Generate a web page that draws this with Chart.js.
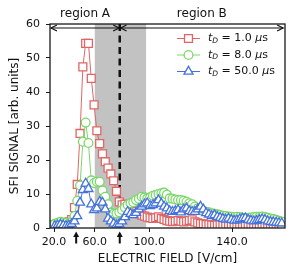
<!DOCTYPE html>
<html><head><meta charset="utf-8">
<script src="https://cdn.jsdelivr.net/npm/chart.js@4.4.0/dist/chart.umd.min.js"></script>
<style>html,body{margin:0;padding:0;background:#fff;}canvas{display:block}</style>
</head><body>
<canvas id="c" width="301" height="275"></canvas>
<script>
// Field ramp: F(t) = FIELD_MAX * (1 - exp(-t)); the detector samples are uniform in ramp time t.
const FIELD_MAX = 200; // V/cm
const fieldAt = t => FIELD_MAX * (1 - Math.exp(-t));
const timeAt = F => -Math.log(1 - F / FIELD_MAX);
const sampleStart = 0.1105;   // ramp time of the first sample
const sampleStep = 0.01728;   // ramp time between samples

// SFI signal [arb. units] for each delay time
const signal_1us = [1.0,1.3,1.4,1.2,1.5,1.8,2.5,6,12.8,27.8,
  47.4,54.3,54.3,44,36.2,28.6,24.8,21.8,19.5,17.6,
  15.9,13.9,10.8,7.7,6.8,7.0,6.3,5.5,4.8,4.8,
  4.2,3.8,3.5,3.2,3.0,2.8,3.0,3.3,2.8,2.5,
  2.2,2.0,1.9,2.0,2.2,2.0,1.8,2.0,2.2,2.4,
  1.8,1.5,1.3,1.2,1.0,1.0,0.9,0.8,0.9,1.0,
  0.8,0.7,0.8,0.9,0.8,0.7,0.6,0.7,0.8,0.7,
  0.6,0.6,0.7,0.6,0.5,0.6,0.5,0.5,0.6,0.5,0.5,0.4];
const signal_8us = [1.2,1.5,1.8,1.6,1.5,1.3,1.8,3.5,8,12.5,
  25.4,31,25,14,13.2,13.6,13.6,11,9.2,7,
  4.5,4.2,4.3,4.6,5.3,6.0,6.8,7.3,7.6,8.2,
  8.6,9.2,9.0,8.7,9.0,9.5,9.7,10.0,10.2,10.4,
  9.8,8.7,8.6,8.4,8.2,8.2,8.0,7.7,7.3,7.0,
  6.3,5.8,5.4,5.0,4.8,4.6,4.3,4.2,4.0,3.8,
  3.6,3.5,3.4,3.3,3.2,3.3,3.2,3.0,2.9,3.0,
  3.1,3.2,3.3,3.3,3.4,3.2,3.0,2.8,2.6,2.4,2.1,1.9];
const signal_50us = [0.6,0.8,1.0,0.8,0.6,0.8,1.2,2.0,3.5,7.5,
  11.2,13.1,11.5,7.0,5.3,5.8,7.7,7.5,5.5,2.8,
  2.0,1.3,0.8,1.2,2.0,3.2,4.8,4.2,3.8,4.5,
  5.5,6.3,7.0,7.3,6.5,6.8,7.3,8.2,7.2,6.3,
  5.8,5.0,4.8,5.0,5.3,4.6,5.5,5.8,5.0,4.8,
  4.8,5.5,6.3,5.5,4.4,4.0,3.5,3.8,3.3,3.0,
  2.7,2.5,2.8,2.4,2.2,2.3,2.6,2.8,2.9,2.4,
  2.2,2.0,2.1,2.4,2.6,2.4,2.0,1.8,1.7,1.6,1.5,1.4];

const seriesDelays = ['1.0', '8.0', '50.0'];          // t_D in µs
const fieldTicks = [20, 60, 100, 140];                // V/cm
const signalTicks = [0, 10, 20, 30, 40, 50, 60];
const fieldRange = [15.5, 156.7];                     // V/cm
const regionA = [16.6, 79.6];
const regionB = [80.6, 156.2];
const shadedField = [60, 98];
const boundaryField = 80;
const arrowFields = [43, 80];

const colors = ['#e06666', '#7bd86b', '#4472dc'];
const styles = ['rect', 'circle', 'triangle'];
const radii = [5.6, 4.4, 5.2];

const toPoints = arr => arr.map((v, i) => ({x: sampleStart + i * sampleStep, y: v}));
const series = [signal_1us, signal_8us, signal_50us];

Chart.defaults.font.family = 'DejaVu Sans';
Chart.defaults.color = '#111';

const datasets = series.map((s, i) => ({
  label: 't_D = ' + seriesDelays[i] + ' µs',
  data: toPoints(s),
  borderColor: colors[i],
  borderWidth: 1,
  pointStyle: styles[i],
  pointRadius: radii[i],
  pointBorderWidth: 1.3,
  pointBorderColor: colors[i],
  pointBackgroundColor: '#fff',
  tension: 0,
  order: 3 - i
}));

function dblArrow(ctx, xa, xb, y) {
  ctx.beginPath(); ctx.moveTo(xa, y); ctx.lineTo(xb, y); ctx.stroke();
  ctx.beginPath();
  ctx.moveTo(xa + 6, y - 3); ctx.lineTo(xa, y); ctx.lineTo(xa + 6, y + 3);
  ctx.moveTo(xb - 6, y - 3); ctx.lineTo(xb, y); ctx.lineTo(xb - 6, y + 3);
  ctx.stroke();
}

const overlay = {
  id: 'overlay',
  beforeDatasetsDraw(chart) {
    const {ctx, chartArea: a, scales: {x}} = chart;
    const px = F => x.getPixelForValue(timeAt(F));
    ctx.save();
    ctx.fillStyle = '#c2c2c2';
    const x0 = px(shadedField[0]), x1 = px(shadedField[1]);
    ctx.fillRect(x0, a.top, x1 - x0, a.bottom - a.top);
    ctx.strokeStyle = '#111'; ctx.lineWidth = 2.5; ctx.setLineDash([7, 4.5]);
    const xb = px(boundaryField);
    ctx.beginPath(); ctx.moveTo(xb, a.top); ctx.lineTo(xb, a.bottom); ctx.stroke();
    ctx.restore();
  },
  afterDraw(chart) {
    const {ctx, chartArea: a, scales: {x}} = chart;
    const px = F => x.getPixelForValue(timeAt(F));
    ctx.save();
    // frame
    ctx.strokeStyle = '#1a1a1a'; ctx.lineWidth = 1.3;
    ctx.strokeRect(a.left, a.top, a.right - a.left, a.bottom - a.top);
    // region arrows
    ctx.lineWidth = 1.2; ctx.strokeStyle = '#111';
    const yA = a.top + 4;
    dblArrow(ctx, px(regionA[0]), px(regionA[1]), yA);
    dblArrow(ctx, px(regionB[0]), px(regionB[1]), yA);
    ctx.fillStyle = '#111';
    ctx.font = '12px "DejaVu Sans"';
    ctx.textAlign = 'center'; ctx.textBaseline = 'alphabetic';
    ctx.fillText('region A', (px(regionA[0]) + px(regionA[1])) / 2, a.top - 7);
    ctx.fillText('region B', (px(regionB[0]) + px(regionB[1])) / 2, a.top - 7);
    // arrows under axis
    arrowFields.forEach(F => {
      const xa = px(F), tip = a.bottom + 3.5;
      ctx.beginPath();
      ctx.moveTo(xa, tip); ctx.lineTo(xa + 3, tip + 5.5); ctx.lineTo(xa - 3, tip + 5.5); ctx.closePath();
      ctx.fill();
      ctx.fillRect(xa - 1, tip + 5, 2, 7);
    });
    // legend
    const lx0 = 177, lx1 = 200, ty = 38.5, dy = 16.5, tx = 208;
    series.forEach((s, i) => {
      const y = ty + i * dy;
      ctx.strokeStyle = colors[i]; ctx.lineWidth = 1;
      ctx.beginPath(); ctx.moveTo(lx0, y); ctx.lineTo(lx1, y); ctx.stroke();
      ctx.fillStyle = '#fff'; ctx.lineWidth = 1.3;
      Chart.helpers.drawPoint(ctx, {pointStyle: styles[i], radius: radii[i], borderWidth: 1.3, rotation: 0}, (lx0 + lx1) / 2, y);
      ctx.fillStyle = '#111'; ctx.textAlign = 'left'; ctx.textBaseline = 'middle';
      let cx = tx;
      const part = (txt, font, dyOff) => { ctx.font = font; ctx.fillText(txt, cx, y + dyOff); cx += ctx.measureText(txt).width; };
      part('t', 'italic 11px "DejaVu Sans"', 0);
      part('D', 'italic 7.5px "DejaVu Sans"', 2.5);
      part(' = ' + seriesDelays[i] + ' ', '11px "DejaVu Sans"', 0);
      part('\u03bc', 'italic 11px "DejaVu Sans"', 0);
      part('s', '11px "DejaVu Sans"', 0);
    });
    ctx.restore();
  }
};

new Chart(document.getElementById('c'), {
  type: 'line',
  data: {datasets},
  options: {
    responsive: false,
    animation: false,
    devicePixelRatio: 1,
    layout: {padding: {top: 24, right: 16, left: 0, bottom: 0}},
    plugins: {legend: {display: false}, tooltip: {enabled: false}},
    scales: {
      x: {
        type: 'linear',
        min: timeAt(fieldRange[0]),
        max: timeAt(fieldRange[1]),
        afterBuildTicks: sc => { sc.ticks = fieldTicks.map(F => ({value: timeAt(F)})); },
        afterFit: sc => { sc.height = 47; },
        ticks: {autoSkip: false, maxRotation: 0, padding: 4, font: {size: 11},
          callback: v => fieldAt(v).toFixed(1)},
        grid: {drawOnChartArea: false, drawTicks: true, tickLength: 4, color: '#1a1a1a', lineWidth: 1},
        border: {display: false},
        title: {display: true, text: 'ELECTRIC FIELD [V/cm]', font: {size: 12}, padding: {top: 0, bottom: 9}}
      },
      y: {
        type: 'linear',
        min: signalTicks[0],
        max: signalTicks[signalTicks.length - 1],
        afterBuildTicks: sc => { sc.ticks = signalTicks.map(v => ({value: v})); },
        afterFit: sc => { sc.width = 50; },
        ticks: {padding: 6, font: {size: 11}},
        grid: {drawOnChartArea: false, drawTicks: true, tickLength: 4, color: '#1a1a1a', lineWidth: 1},
        border: {display: false},
        title: {display: true, text: 'SFI SIGNAL [arb. units]', font: {size: 12}, padding: {top: 8, bottom: 0}}
      }
    }
  },
  plugins: [overlay]
});
</script>
</body></html>
